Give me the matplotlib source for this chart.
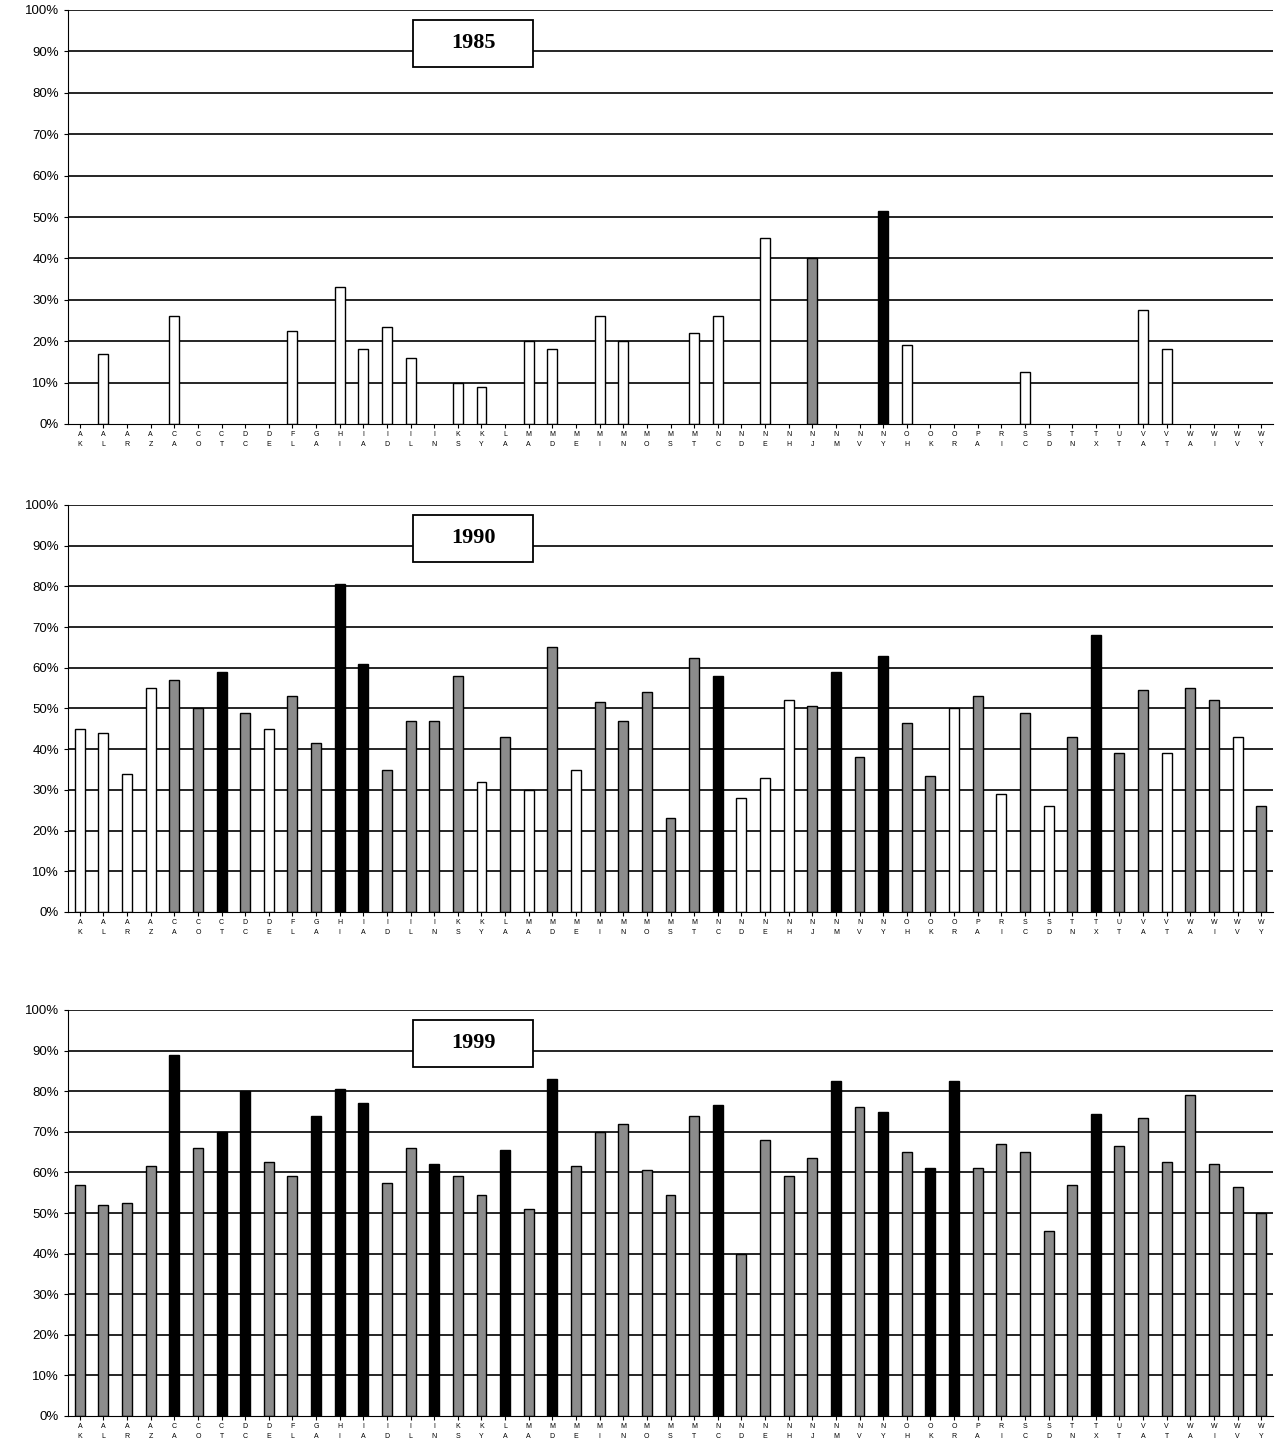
import numpy as np
import matplotlib.pyplot as plt
from matplotlib.patches import Rectangle

states = ["AK","AL","AR","AZ","CA","CO","CT","DC","DE","FL","GA","HI","IA","ID","IL","IN",
          "KS","KY","LA","MA","MD","ME","MI","MN","MO","MS","MT","NC","ND","NE","NH","NJ",
          "NM","NV","NY","OH","OK","OR","PA","RI","SC","SD","TN","TX","UT","VA","VT","WA",
          "WI","WV","WY"]

# 1985: only a few states have values
v1985 = {"AL": (17, "w"), "CA": (26, "w"), "FL": (22.5, "w"), "HI": (33, "w"), "IA": (18, "w"),
         "ID": (23.5, "w"), "IL": (16, "w"), "KS": (10, "w"), "KY": (9, "w"), "MA": (20, "w"),
         "MD": (18, "w"), "MI": (26, "w"), "MN": (20, "w"), "MT": (22, "w"), "NC": (26, "w"),
         "NE": (45, "w"), "NJ": (40, "g"), "NY": (51.5, "b"), "OH": (19, "w"), "SC": (12.5, "w"),
         "VA": (27.5, "w"), "VT": (18, "w")}

v1990 = [45, 44, 34, 55, 57, 50, 59, 49, 45, 53, 41.5, 80.5, 61, 35, 47, 47,
         58, 32, 43, 30, 65, 35, 51.5, 47, 54, 23, 62.5, 58, 28, 33, 52, 50.5,
         59, 38, 63, 46.5, 33.5, 50, 53, 29, 49, 26, 43, 68, 39, 54.5, 39, 55,
         52, 43, 26]
c1990 = "wwwwggbgwg" "gbbggggwgw" "gwgggggbww" "wgbgbggwgw" "gwgbggwggw" "g"

v1999 = [57, 52, 52.5, 61.5, 89, 66, 70, 80, 62.5, 59, 74, 80.5, 77, 57.5, 66, 62,
         59, 54.5, 65.5, 51, 83, 61.5, 70, 72, 60.5, 54.5, 74, 76.5, 40, 68, 59, 63.5,
         82.5, 76, 75, 65, 61, 82.5, 61, 67, 65, 45.5, 57, 74.5, 66.5, 73.5, 62.5, 79,
         62, 56.5, 50]
c1999 = "ggggbgbbgg" "bbbggbggbg" "bggggggbgg" "ggbgbgbbgg" "gggbgggggg" "g"

colmap = {"w": "white", "g": "#8c8c8c", "b": "black"}

v85 = [v1985.get(s, (0, "w"))[0] for s in states]
c85 = "".join(v1985.get(s, (0, "w"))[1] for s in states)

fig = plt.figure(figsize=(12.76, 14.39), dpi=100)
W, H = 1276, 1439
panels = [("1985", v85, c85, 10, 424),
          ("1990", v1990, c1990, 505, 912),
          ("1999", v1999, c1999, 1010, 1416)]
x = np.arange(len(states))
labels = [s[0] + "\n" + s[1] for s in states]

for year, vals, cols, top, bot in panels:
    ax = fig.add_axes([68 / W, 1 - bot / H, (1273 - 68) / W, (bot - top) / H])
    for y in range(10, 101, 10):
        ax.axhline(y, color="black", lw=1.2, zorder=0)
    heights = [v if v > 0 else np.nan for v in vals]
    ax.bar(x, heights, width=0.42, color=[colmap[c] for c in cols],
           edgecolor="black", linewidth=1, zorder=2)
    ax.set_xlim(-0.5, len(states) - 0.5)
    ax.set_ylim(0, 100)
    ax.set_yticks(range(0, 101, 10))
    ax.set_yticklabels([f"{y}%" for y in range(0, 101, 10)], fontsize=9.5,
                       family="Liberation Sans")
    ax.set_xticks(x)
    ax.set_xticklabels(labels, fontsize=5, family="Liberation Sans", linespacing=1.6)
    ax.tick_params(axis="x", length=3, pad=2)
    ax.tick_params(axis="y", length=3)
    for sp in ["top", "right"]:
        ax.spines[sp].set_visible(False)
    # title box
    aw, ah = 1273 - 68, bot - top
    bx0, bx1, by0, by1 = 413, 533, 10, 57   # pixels relative to panel top
    ax.add_patch(Rectangle(((bx0 - 68) / aw, 1 - by1 / ah), (bx1 - bx0) / aw, (by1 - by0) / ah,
                           transform=ax.transAxes, fc="white", ec="black", lw=1.3,
                           zorder=5, clip_on=False))
    ax.text(((bx0 + bx1) / 2 - 68) / aw, 1 - (by0 + by1) / 2 / ah, year,
            transform=ax.transAxes, ha="center", va="center", fontsize=16,
            fontweight="bold", family="Liberation Serif", zorder=6)

fig.savefig("out.png", dpi=100)
